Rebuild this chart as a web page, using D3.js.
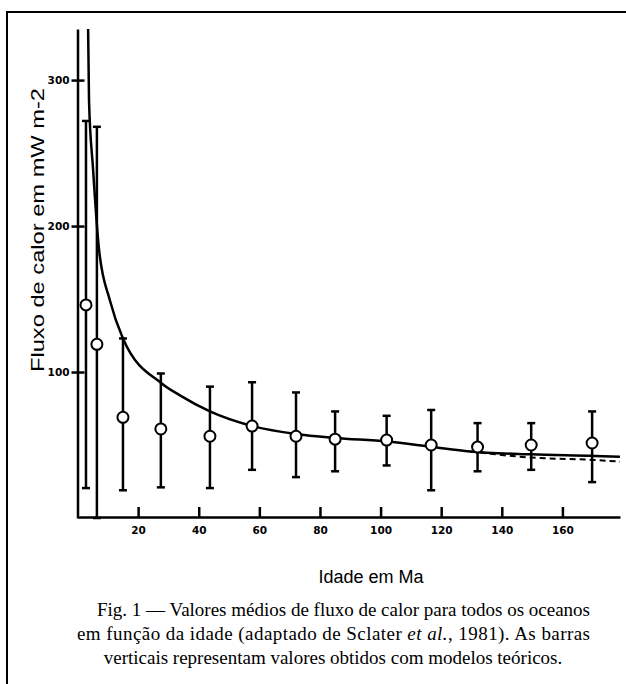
<!DOCTYPE html>
<html>
<head>
<meta charset="utf-8">
<script src="https://cdn.jsdelivr.net/npm/d3@7"></script>
<style>
  body { margin: 0; background: #fff; }
  svg { display: block; }
</style>
</head>
<body>
<div id="chart"></div>
<script>
var width = 626;
var height = 684;

// mean heat flow by age (Ma), with theoretical range bars
var ages  = [2.8, 6.4, 15, 27.5, 43.7, 57.6, 72.1, 85, 102, 116.7, 132, 149.7, 169.8];
var means = [146, 119, 69, 61, 56, 63, 56, 54, 53.4, 50, 48.6, 50, 51.4];
var highs = [272, 268, 123, 99, 90, 93, 86, 73, 70, 74, 65, 65, 73];
var lows  = [20.5, 0, 19, 21, 20.5, 33, 28, 32, 36, 19, 32, 33, 24.6];

// theoretical curve
var curveAge  = [3.5, 3.8, 5.1, 7.1, 10.7, 15, 27.9, 33.8, 43.7, 57.6, 72.1, 85, 102.2, 116.7, 129.5, 149.7, 169.8, 179];
var curveFlux = [335, 286, 240, 184, 149, 123, 92, 84, 73, 63, 57.5, 54.8, 52.4, 48.8, 45.6, 43.6, 42.6, 42];
// dashed branch at old ages
var dashAge  = [129.5, 149.7, 169.8, 179];
var dashFlux = [45.6, 41.4, 39.8, 38.6];

var xTicks = [20, 40, 60, 80, 100, 120, 140, 160];
var yTicks = [100, 200, 300];

var svg = d3.select("#chart").append("svg")
  .attr("width", width)
  .attr("height", height);

// frame (top and left edges only)
svg.append("path")
  .attr("d", "M7,684 L7,12 L626,12")
  .attr("fill", "none")
  .attr("stroke", "#000")
  .attr("stroke-width", 2);

var x = d3.scaleLinear().domain([0, 179]).range([77.5, 620]);
var y = d3.scaleLinear().domain([0, 335]).range([518, 29]);

// x axis
var xAxis = svg.append("g")
  .attr("transform", "translate(0,517)")
  .call(d3.axisBottom(x).tickValues(xTicks).tickSizeInner(-10).tickSizeOuter(0).tickPadding(10));
xAxis.select(".domain").attr("stroke-width", 2.5);
xAxis.selectAll(".tick line").attr("stroke-width", 2.5);
xAxis.selectAll(".tick text")
  .attr("font-family", "DejaVu Sans, sans-serif")
  .attr("font-weight", "bold")
  .attr("font-size", 10.5);

// y axis
var yAxis = svg.append("g")
  .attr("transform", "translate(77.5,0)")
  .call(d3.axisLeft(y).tickValues(yTicks).tickSizeInner(6).tickSizeOuter(0).tickPadding(2));
yAxis.select(".domain").attr("stroke-width", 2.5);
yAxis.selectAll(".tick line").attr("x1", 7).attr("x2", -6).attr("stroke-width", 2.5);
yAxis.selectAll(".tick text")
  .attr("font-family", "DejaVu Sans, sans-serif")
  .attr("font-weight", "bold")
  .attr("font-size", 10.5);

// theoretical curve
var line = d3.line()
  .x(function(d) { return x(d[0]); })
  .y(function(d) { return y(d[1]); })
  .curve(d3.curveMonotoneX);

svg.append("path")
  .datum(d3.zip(curveAge, curveFlux))
  .attr("d", line)
  .attr("fill", "none")
  .attr("stroke", "#000")
  .attr("stroke-width", 2.5);

svg.append("path")
  .datum(d3.zip(dashAge, dashFlux))
  .attr("d", line)
  .attr("fill", "none")
  .attr("stroke", "#000")
  .attr("stroke-width", 2)
  .attr("stroke-dasharray", "6,4");

// error bars
var pts = ages.map(function(a, i) {
  return { age: a, mean: means[i], hi: highs[i], lo: lows[i] };
});

var bars = svg.append("g").selectAll("g")
  .data(pts)
  .enter()
  .append("g");

bars.append("line")
  .attr("x1", function(d) { return x(d.age); })
  .attr("x2", function(d) { return x(d.age); })
  .attr("y1", function(d) { return y(d.hi); })
  .attr("y2", function(d) { return y(d.lo); })
  .attr("stroke", "#000")
  .attr("stroke-width", 2.5);

bars.append("line")
  .attr("x1", function(d) { return x(d.age) - 4; })
  .attr("x2", function(d) { return x(d.age) + 4; })
  .attr("y1", function(d) { return y(d.hi); })
  .attr("y2", function(d) { return y(d.hi); })
  .attr("stroke", "#000")
  .attr("stroke-width", 2.5);

bars.append("line")
  .attr("x1", function(d) { return x(d.age) - 4; })
  .attr("x2", function(d) { return x(d.age) + 4; })
  .attr("y1", function(d) { return y(d.lo); })
  .attr("y2", function(d) { return y(d.lo); })
  .attr("stroke", "#000")
  .attr("stroke-width", 2.5);

bars.append("circle")
  .attr("cx", function(d) { return x(d.age); })
  .attr("cy", function(d) { return y(d.mean); })
  .attr("r", 5.5)
  .attr("fill", "#fff")
  .attr("stroke", "#000")
  .attr("stroke-width", 2);

// axis titles
svg.append("text")
  .attr("transform", "translate(44,230) rotate(-90)")
  .attr("text-anchor", "middle")
  .attr("font-family", "Liberation Sans, Arial, sans-serif")
  .attr("font-size", 18)
  .attr("textLength", 284)
  .attr("lengthAdjust", "spacingAndGlyphs")
  .text("Fluxo de calor em mW m-2");

svg.append("text")
  .attr("x", 371)
  .attr("y", 583)
  .attr("text-anchor", "middle")
  .attr("font-family", "Liberation Sans, Arial, sans-serif")
  .attr("font-size", 18)
  .text("Idade em Ma");

// caption
var cap = svg.append("g")
  .attr("font-family", "Liberation Serif, Times New Roman, serif")
  .attr("font-size", 19);

cap.append("text")
  .attr("x", 97).attr("y", 616)
  .attr("textLength", 493)
  .attr("lengthAdjust", "spacing")
  .text("Fig. 1 \u2014 Valores médios de fluxo de calor para todos os oceanos");

var l2 = cap.append("text")
  .attr("x", 77).attr("y", 640)
  .attr("textLength", 513)
  .attr("lengthAdjust", "spacing");
l2.append("tspan").text("em função da idade (adaptado de Sclater ");
l2.append("tspan").attr("font-style", "italic").text("et al.");
l2.append("tspan").text(", 1981). As barras");

cap.append("text")
  .attr("x", 333).attr("y", 664)
  .attr("text-anchor", "middle")
  .text("verticais representam valores obtidos com modelos teóricos.");
</script>
</body>
</html>
